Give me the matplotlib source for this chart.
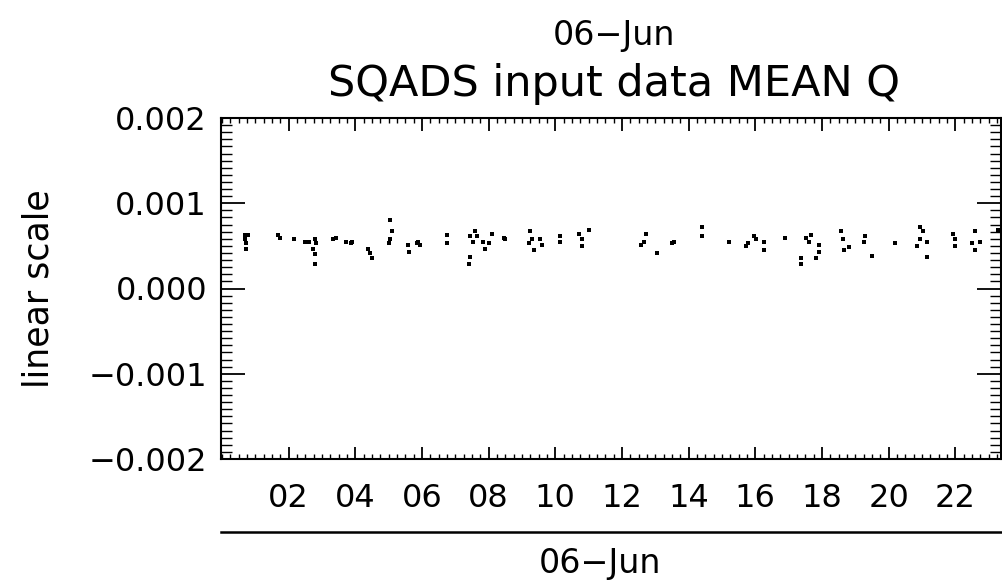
import matplotlib
matplotlib.use("Agg")
import matplotlib.pyplot as plt
from matplotlib.lines import Line2D
from matplotlib.ticker import MultipleLocator, FixedLocator

# hour of day (UT) for each mean-Q sample on 06-Jun
hours = [0.69, 0.78, 0.69, 0.72, 0.72, 1.68, 1.74, 2.16, 2.49, 2.61,
         2.79, 2.82, 2.73, 2.79, 2.79, 3.33, 3.42, 3.72, 3.87, 3.90,
         4.38, 4.44, 4.50, 5.04, 5.10, 5.04, 5.01, 5.58, 5.61, 5.88,
         5.94, 5.85, 6.75, 6.75, 7.44, 7.59, 7.65, 7.53, 7.44, 7.41,
         7.83, 7.89, 8.01, 8.10, 8.46, 8.49, 9.24, 9.30, 9.21, 9.36,
         9.54, 9.60, 10.14, 10.14, 10.71, 11.01, 10.80, 10.80, 12.72, 12.66,
         12.57, 13.05, 13.50, 13.56, 14.40, 14.40, 15.21, 15.72, 15.78, 15.96,
         16.02, 16.26, 16.26, 16.89, 17.52, 17.67, 17.61, 17.91, 17.91, 17.82,
         17.37, 17.37, 18.57, 18.63, 18.66, 18.81, 19.29, 19.26, 19.50, 20.19,
         20.94, 21.03, 20.85, 20.94, 21.15, 21.15, 21.93, 21.99, 21.99, 22.59,
         22.50, 22.59, 22.74, 23.28]

# mean Q values, units of 1e-4
mean_q = [6.22, 6.22, 5.75, 5.28, 4.69, 6.33, 5.87, 5.75, 5.40, 5.40,
          5.75, 5.28, 4.69, 3.99, 2.93, 5.75, 5.87, 5.51, 5.28, 5.51,
          4.69, 4.11, 3.52, 8.09, 6.69, 5.75, 5.28, 5.16, 4.34, 5.51,
          5.16, 5.28, 6.33, 5.28, 6.10, 6.69, 6.10, 5.51, 3.75, 2.82,
          5.51, 4.69, 5.28, 6.45, 5.87, 5.75, 6.69, 5.75, 5.28, 4.57,
          5.75, 5.16, 6.10, 5.51, 6.45, 6.92, 5.75, 4.93, 6.45, 5.51,
          5.16, 4.22, 5.28, 5.51, 7.27, 6.10, 5.51, 5.04, 5.28, 6.10,
          5.75, 5.51, 4.57, 5.87, 5.87, 6.33, 5.51, 5.16, 4.34, 3.52,
          3.52, 2.93, 6.80, 5.75, 4.57, 4.81, 6.10, 5.51, 3.87, 5.28,
          7.27, 6.80, 4.93, 5.75, 5.51, 3.75, 6.45, 5.75, 4.93, 6.69,
          5.28, 4.57, 5.51, 6.92]

hour_ticks = [2, 4, 6, 8, 10, 12, 14, 16, 18, 20, 22]
hour_labels = ["%02d" % h for h in hour_ticks]
q_ticks = [-0.002, -0.001, 0.0, 0.001, 0.002]
q_labels = ["\u22120.002", "\u22120.001", "0.000", "0.001", "0.002"]
day_label = "06\u2212Jun"

W, H = 1002, 585
fig = plt.figure(figsize=(W / 100, H / 100), dpi=100)
ax = fig.add_axes([221 / W, 1 - 459 / H, (1001 - 221) / W, (459 - 118) / H])

ax.plot(hours, [v * 1e-4 for v in mean_q], linestyle="none", marker="s",
        markersize=2.6, color="black", markeredgewidth=0)

ax.set_xlim(-0.03, 23.37)
ax.set_ylim(-0.002, 0.002)

ax.xaxis.set_major_locator(FixedLocator(hour_ticks))
ax.set_xticklabels(hour_labels)
ax.xaxis.set_minor_locator(MultipleLocator(0.25))
ax.yaxis.set_major_locator(FixedLocator(q_ticks))
ax.set_yticklabels(q_labels)
ax.yaxis.set_minor_locator(MultipleLocator(0.001 / 12))

for s in ax.spines.values():
    s.set_linewidth(1.5)

ax.tick_params(axis="both", which="both", direction="in", top=True, right=True,
               colors="black", labelsize=23)
ax.tick_params(axis="x", which="major", length=9, width=1.3, pad=17)
ax.tick_params(axis="x", which="minor", length=3.5, width=1.0)
ax.tick_params(axis="y", which="major", length=17, width=1.3, pad=10)
ax.tick_params(axis="y", which="minor", length=8, width=1.0)

ax.set_ylabel("linear scale", fontsize=25, labelpad=24)

fig.text(614 / W, 1 - 84 / H, "SQADS input data MEAN Q", ha="center",
         va="center", fontsize=31)
fig.text(614 / W, 1 - 35 / H, day_label, ha="center", va="center", fontsize=24)
fig.text(600 / W, 1 - 563 / H, day_label, ha="center", va="center", fontsize=24)

fig.add_artist(Line2D([221 / W, 1.0], [1 - 532 / H, 1 - 532 / H],
                      color="black", linewidth=1.8))

fig.savefig("out.png", dpi=100, facecolor="white")
